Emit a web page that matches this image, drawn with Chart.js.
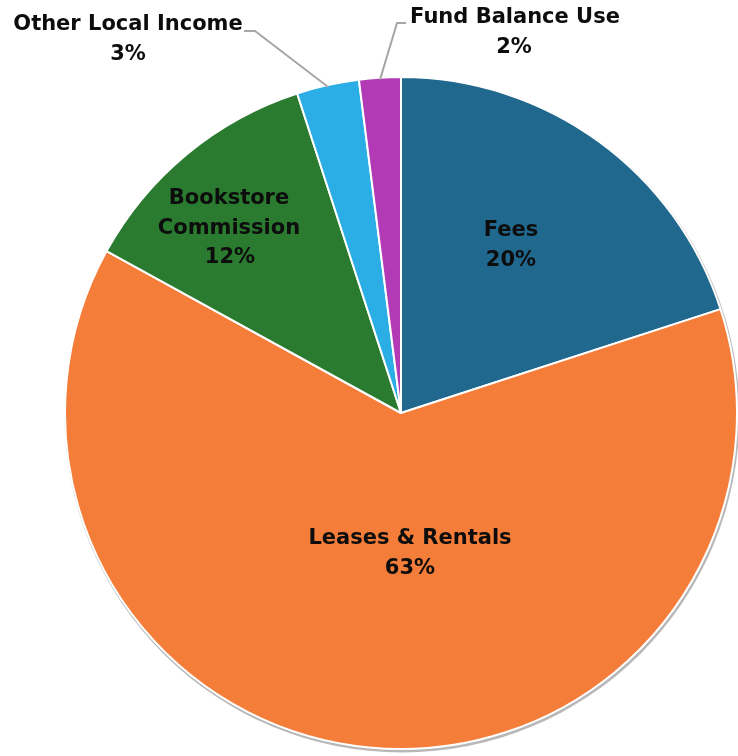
<!DOCTYPE html>
<html>
<head>
<meta charset="utf-8">
<title>Revenue Sources</title>
<script src="https://cdn.jsdelivr.net/npm/chart.js@4.4.1/dist/chart.umd.min.js"></script>
<style>
  html, body { margin: 0; padding: 0; background: #ffffff; overflow: hidden; }
  #chartHolder { width: 738px; height: 756px; }
</style>
</head>
<body>
<div id="chartHolder"><canvas id="revenueChart" width="738" height="756"></canvas></div>
<script>
'use strict';

//data
var categories = ['Fees', 'Leases & Rentals', ['Bookstore', 'Commission'], 'Other Local Income', 'Fund Balance Use'];
var percents = [20, 63, 12, 3, 2];
var sliceColors = ['#21688e', '#f47d3a', '#2a7a30', '#2badE6', '#b23ab4'];

//where each label block sits (x, y of first line), pctX for the value line
var labelSpots = [
  { x: 511, y: 231, pctX: 511 },
  { x: 410, y: 539, pctX: 410 },
  { x: 229, y: 199, pctX: 230 },
  { x: 128, y: 25, pctX: 128, lead: [[244, 31], [255, 31]] },
  { x: 515, y: 18, pctX: 514, lead: [[406, 23], [397, 23]] }
];
var lineGap = 29.5;
var labelFont = 'bold 21px "DejaVu Sans", sans-serif';

function shade(hex, amt) {
  var n = parseInt(hex.slice(1), 16);
  var r = (n >> 16) & 255, g = (n >> 8) & 255, b = n & 255;
  function f(c) {
    var v = amt < 0 ? c * (1 + amt) : c + (255 - c) * amt;
    return Math.round(Math.max(0, Math.min(255, v)));
  }
  return 'rgb(' + f(r) + ',' + f(g) + ',' + f(b) + ')';
}

// soft bevel: radial gradient per slice
function sliceFill(context) {
  var chart = context.chart;
  var base = sliceColors[context.dataIndex];
  var arc = context.element;
  if (!arc || !arc.outerRadius) {
    return base;
  }
  var g = chart.ctx.createRadialGradient(arc.x, arc.y, 0, arc.x, arc.y, arc.outerRadius);
  g.addColorStop(0, shade(base, -0.06));
  g.addColorStop(0.55, base);
  g.addColorStop(0.9, shade(base, 0.04));
  g.addColorStop(0.97, shade(base, -0.05));
  g.addColorStop(1, shade(base, -0.12));
  return g;
}

// gray rim behind the pie
var rimPlugin = {
  id: 'rim',
  beforeDatasetsDraw: function(chart) {
    var arc = chart.getDatasetMeta(0).data[0];
    if (!arc) return;
    var ctx = chart.ctx;
    ctx.save();
    ctx.beginPath();
    ctx.arc(arc.x + 1, arc.y + 2, arc.outerRadius + 1.5, 0, Math.PI * 2);
    ctx.fillStyle = '#b8b8b8';
    ctx.fill();
    ctx.restore();
  }
};

// names, values and leader lines
var labelPlugin = {
  id: 'sliceLabels',
  afterDatasetsDraw: function(chart) {
    var ctx = chart.ctx;
    var arcs = chart.getDatasetMeta(0).data;
    ctx.save();
    ctx.font = labelFont;
    ctx.fillStyle = '#0d0d0d';
    ctx.textAlign = 'center';
    ctx.textBaseline = 'middle';
    for (var i = 0; i < categories.length; i++) {
      var spot = labelSpots[i];
      var lines = [].concat(categories[i]);
      for (var j = 0; j < lines.length; j++) {
        ctx.fillText(lines[j], spot.x, spot.y + j * lineGap);
      }
      ctx.fillText(percents[i] + '%', spot.pctX, spot.y + lines.length * lineGap);

      if (spot.lead) {
        var p = arcs[i].getProps(['x', 'y', 'startAngle', 'endAngle', 'outerRadius'], true);
        var mid = (p.startAngle + p.endAngle) / 2;
        var ex = p.x + Math.cos(mid) * (p.outerRadius - 2);
        var ey = p.y + Math.sin(mid) * (p.outerRadius - 2);
        ctx.beginPath();
        ctx.moveTo(spot.lead[0][0], spot.lead[0][1]);
        ctx.lineTo(spot.lead[1][0], spot.lead[1][1]);
        ctx.lineTo(ex, ey);
        ctx.strokeStyle = '#a6a6a6';
        ctx.lineWidth = 2;
        ctx.stroke();
      }
    }
    ctx.restore();
  }
};

var ctx = document.getElementById('revenueChart').getContext('2d');
var pieChart = new Chart(ctx, {
  type: 'pie',
  data: {
    labels: categories,
    datasets: [{
      data: percents,
      backgroundColor: sliceFill,
      borderColor: '#ffffff',
      borderWidth: 2
    }]
  },
  options: {
    responsive: false,
    animation: false,
    layout: {
      padding: { left: 64, right: 0, top: 75, bottom: 5 }
    },
    plugins: {
      legend: { display: false },
      tooltip: { enabled: false }
    }
  },
  plugins: [rimPlugin, labelPlugin]
});
</script>
</body>
</html>
